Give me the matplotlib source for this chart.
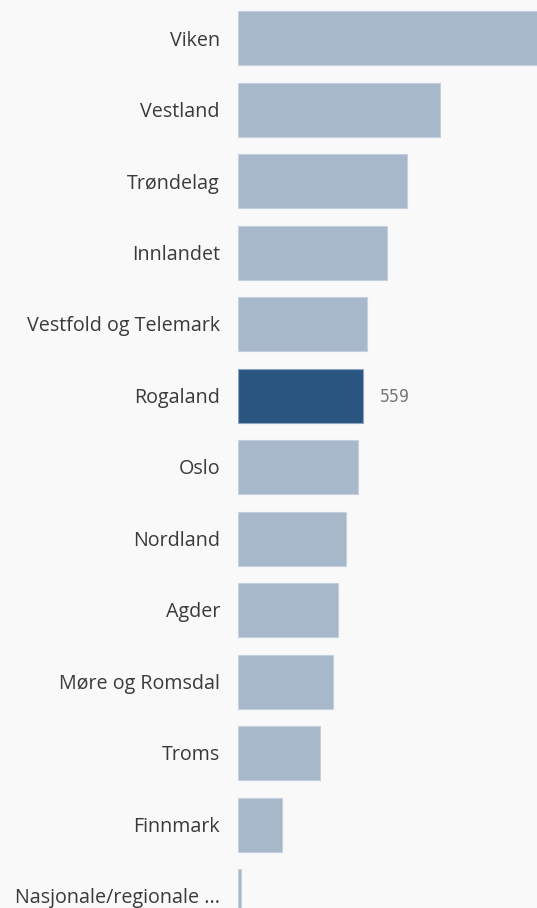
import matplotlib
matplotlib.use("Agg")
import matplotlib.pyplot as plt
from matplotlib.transforms import offset_copy

categories = ["Viken", "Vestland", "Trøndelag", "Innlandet", "Vestfold og Telemark",
              "Rogaland", "Oslo", "Nordland", "Agder", "Møre og Romsdal", "Troms",
              "Finnmark", "Nasjonale/regionale ..."]
values = [1360, 901, 752, 663, 577, 559, 537, 480, 447, 425, 367, 195, 12]
highlight = "Rogaland"

W, H = 537, 908
fig = plt.figure(figsize=(W / 100, H / 100), dpi=100)
fig.patch.set_facecolor("#f9f9f9")
ax = fig.add_axes([238 / W, 0, 1 - 238 / W, 1])
ax.set_facecolor("#f9f9f9")

light = "#a8b8cb"
dark = "#2a5580"
colors = [dark if c == highlight else light for c in categories]
edges = ["#8fa6c0" if c == highlight else "#c4d0dd" for c in categories]
ypos = list(range(len(categories)))
pitch = 71.5
ax.barh(ypos, values, height=54 / pitch, color=colors, edgecolor=edges, linewidth=0.8)

px_per_unit = 125.3 / 559
ax.set_xlim(0, (W - 238) / px_per_unit)
ax.set_ylim((H - 38) / pitch, -38 / pitch)

for s in ax.spines.values():
    s.set_visible(False)
ax.set_xticks([])
ax.set_yticks([])

for i, c in enumerate(categories):
    tr = offset_copy(ax.transData, fig=fig, x=-18, y=-2.5, units="dots")
    ax.text(0, i, c, transform=tr, ha="right", va="center",
            fontsize=14.2, family="Open Sans", color="#3a3a3a")

i = categories.index(highlight)
tr = offset_copy(ax.transData, fig=fig, x=17, y=-2, units="dots")
ax.text(values[i], i, str(values[i]), transform=tr, ha="left", va="center",
        fontsize=12, family="DejaVu Sans Mono", color="#777777")

fig.savefig("out.png", dpi=100, facecolor=fig.get_facecolor())
